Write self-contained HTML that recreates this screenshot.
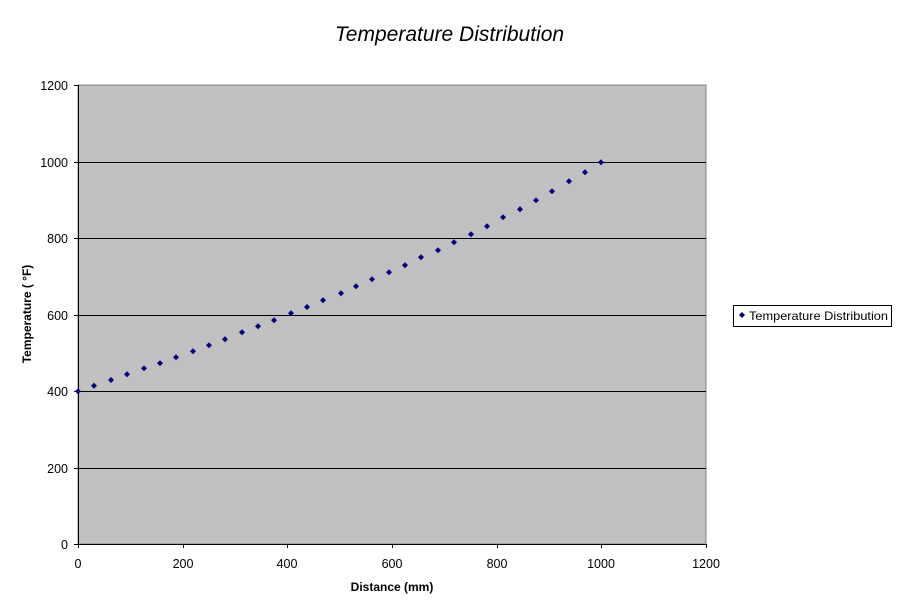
<!DOCTYPE html>
<html><head><meta charset="utf-8"><style>
html,body{margin:0;padding:0;background:#fff;}
svg{display:block;}
text{font-family:"Liberation Sans",Arial,sans-serif;fill:#000;}
</style></head><body>
<svg width="898" height="602" viewBox="0 0 898 602" xmlns="http://www.w3.org/2000/svg">
<defs><path id="d" d="M0 -3 L3 0 L0 3 L-3 0 Z" fill="#000080"/></defs>
<rect x="0" y="0" width="898" height="602" fill="#fff"/>
<text x="449.5" y="41" font-size="21" font-style="italic" text-anchor="middle">Temperature Distribution</text>
<rect x="78" y="85" width="628" height="459" fill="#c0c0c0" stroke="#808080" stroke-width="1"/>
<g stroke="#000" stroke-width="1" shape-rendering="crispEdges">
<line x1="78" y1="162.5" x2="706" y2="162.5"/>
<line x1="78" y1="238.5" x2="706" y2="238.5"/>
<line x1="78" y1="315.5" x2="706" y2="315.5"/>
<line x1="78" y1="391.5" x2="706" y2="391.5"/>
<line x1="78" y1="468.5" x2="706" y2="468.5"/>
<line x1="78.5" y1="85" x2="78.5" y2="548"/>
<line x1="74" y1="544.5" x2="706" y2="544.5"/>
<line x1="74" y1="85.5" x2="78" y2="85.5"/>
<line x1="74" y1="162.5" x2="78" y2="162.5"/>
<line x1="74" y1="238.5" x2="78" y2="238.5"/>
<line x1="74" y1="315.5" x2="78" y2="315.5"/>
<line x1="74" y1="391.5" x2="78" y2="391.5"/>
<line x1="74" y1="468.5" x2="78" y2="468.5"/>
<line x1="183.5" y1="544" x2="183.5" y2="548"/>
<line x1="287.5" y1="544" x2="287.5" y2="548"/>
<line x1="392.5" y1="544" x2="392.5" y2="548"/>
<line x1="497.5" y1="544" x2="497.5" y2="548"/>
<line x1="601.5" y1="544" x2="601.5" y2="548"/>
<line x1="706.5" y1="544" x2="706.5" y2="548"/>
</g>
<g font-size="12.5" text-anchor="end">
<text x="68" y="90">1200</text>
<text x="68" y="167">1000</text>
<text x="68" y="243">800</text>
<text x="68" y="320">600</text>
<text x="68" y="396">400</text>
<text x="68" y="473">200</text>
<text x="68" y="549">0</text>
</g>
<g font-size="12.5" text-anchor="middle">
<text x="78" y="568">0</text>
<text x="183" y="568">200</text>
<text x="287" y="568">400</text>
<text x="392" y="568">600</text>
<text x="497" y="568">800</text>
<text x="601" y="568">1000</text>
<text x="706" y="568">1200</text>
</g>
<text x="392" y="591" font-size="12" font-weight="bold" text-anchor="middle">Distance (mm)</text>
<text transform="translate(31,314) rotate(-90)" font-size="12" font-weight="bold" text-anchor="middle">Temperature ( °F)</text>
<g>
<use href="#d" x="78" y="391.3"/><use href="#d" x="94" y="385.7"/><use href="#d" x="111" y="380"/><use href="#d" x="127" y="374.3"/>
<use href="#d" x="144" y="368.3"/><use href="#d" x="160" y="363.3"/><use href="#d" x="176" y="357.3"/><use href="#d" x="193" y="351.3"/>
<use href="#d" x="209" y="345.3"/><use href="#d" x="225" y="339.3"/><use href="#d" x="242" y="332.3"/><use href="#d" x="258" y="326.3"/>
<use href="#d" x="274" y="320.3"/><use href="#d" x="291" y="313.3"/><use href="#d" x="307" y="307"/><use href="#d" x="323" y="300.3"/>
<use href="#d" x="341" y="293.3"/><use href="#d" x="356" y="286.3"/><use href="#d" x="372" y="279.3"/><use href="#d" x="389" y="272.3"/>
<use href="#d" x="405" y="265.3"/><use href="#d" x="421" y="257.3"/><use href="#d" x="438" y="250.3"/><use href="#d" x="454" y="242.3"/>
<use href="#d" x="471" y="234.3"/><use href="#d" x="487" y="226.3"/><use href="#d" x="503" y="217.3"/><use href="#d" x="520" y="209.3"/>
<use href="#d" x="536" y="200.3"/><use href="#d" x="552" y="191.3"/><use href="#d" x="569" y="181.3"/><use href="#d" x="585" y="172.3"/>
<use href="#d" x="601" y="162.3"/>
</g>
<rect x="733.5" y="305.5" width="158" height="21" fill="#fff" stroke="#000"/>
<path d="M742 312 L745 315 L742 318 L739 315 Z" fill="#000080"/>
<text x="749" y="320" font-size="12" textLength="139" lengthAdjust="spacingAndGlyphs">Temperature Distribution</text>
</svg>
</body></html>
